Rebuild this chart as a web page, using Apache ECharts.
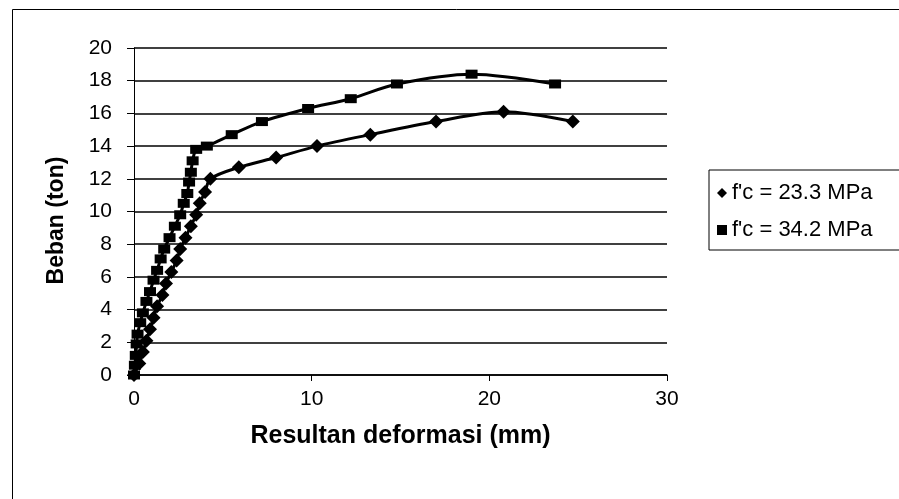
<!DOCTYPE html>
<html>
<head>
<meta charset="utf-8">
<script src="https://cdn.jsdelivr.net/npm/echarts@6/dist/echarts.min.js"></script>
<style>
  html, body { margin: 0; padding: 0; background: #fff; }
  #chart { width: 899px; height: 499px; }
</style>
</head>
<body>
<div id="chart"></div>
<script>
// f'c = 23.3 MPa (diamonds)
var defA = [0, 0.3, 0.5, 0.7, 0.9, 1.1, 1.3, 1.6, 1.8, 2.1, 2.4, 2.6, 2.9, 3.2, 3.5, 3.7, 4.0, 4.3, 5.9, 8.0, 10.3, 13.3, 17.0, 20.8, 24.7];
var loadA = [0, 0.7, 1.4, 2.1, 2.8, 3.5, 4.2, 4.9, 5.6, 6.3, 7.0, 7.7, 8.4, 9.1, 9.8, 10.5, 11.2, 12.0, 12.7, 13.3, 14.0, 14.7, 15.5, 16.1, 15.5];
// f'c = 34.2 MPa (squares)
var defB = [0, 0.05, 0.1, 0.15, 0.2, 0.35, 0.5, 0.7, 0.9, 1.1, 1.3, 1.5, 1.7, 2.0, 2.3, 2.6, 2.8, 3.0, 3.1, 3.2, 3.3, 3.5, 4.1, 5.5, 7.2, 9.8, 12.2, 14.8, 19.0, 23.7];
var loadB = [0, 0.6, 1.2, 1.9, 2.5, 3.2, 3.8, 4.5, 5.1, 5.8, 6.4, 7.1, 7.7, 8.4, 9.1, 9.8, 10.5, 11.1, 11.8, 12.4, 13.1, 13.8, 14.0, 14.7, 15.5, 16.3, 16.9, 17.8, 18.4, 17.8];
var seriesNames = ["f'c = 23.3 MPa", "f'c = 34.2 MPa"];

function pairs(xs, ys) {
  var out = [];
  for (var i = 0; i < xs.length; i++) {
    out.push([xs[i], ys[i]]);
  }
  return out;
}

var myChart = echarts.init(document.getElementById("chart"));
var font = "Liberation Sans, Arial, sans-serif";

myChart.setOption({
  animation: false,
  backgroundColor: "#fff",
  textStyle: { fontFamily: font, color: "#000" },
  graphic: [
    {
      type: "rect",
      left: 10,
      top: 7,
      shape: { width: 1000, height: 600 },
      style: { fill: "none", stroke: "#000", lineWidth: 1 },
      silent: true
    }
  ],
  grid: {
    left: 134,
    right: 232,
    top: 48,
    bottom: 124
  },
  legend: {
    orient: "vertical",
    left: 709,
    top: 170,
    padding: [12, 40, 9, 8],
    itemGap: 15,
    itemWidth: 10,
    itemHeight: 10,
    borderColor: "#000",
    borderWidth: 1,
    textStyle: { fontSize: 22, lineHeight: 21, color: "#000", fontFamily: font },
    data: [
      { name: seriesNames[0], icon: "diamond" },
      { name: seriesNames[1], icon: "rect" }
    ]
  },
  xAxis: {
    type: "value",
    min: 0,
    max: 30,
    interval: 10,
    name: "Resultan deformasi (mm)",
    nameLocation: "middle",
    nameGap: 49,
    nameTextStyle: { fontSize: 25, fontWeight: "bold", color: "#000" },
    axisLine: { show: true, lineStyle: { color: "#000", width: 1.5 } },
    axisTick: { show: true, length: 6, lineStyle: { color: "#000" } },
    axisLabel: { fontSize: 21, color: "#000", margin: 14 },
    splitLine: { show: false }
  },
  yAxis: {
    type: "value",
    min: 0,
    max: 20,
    interval: 2,
    name: "Beban (ton)",
    nameLocation: "middle",
    nameGap: 66,
    nameTextStyle: { fontSize: 23, fontWeight: "bold", color: "#000", padding: [0, 18, 0, 0] },
    axisLine: { show: true, lineStyle: { color: "#000", width: 1 } },
    axisTick: { show: true, length: 7, lineStyle: { color: "#000" } },
    axisLabel: { fontSize: 21, color: "#000", margin: 22 },
    splitLine: { show: true, lineStyle: { color: "#000", width: 1.5 } }
  },
  series: [
    {
      name: seriesNames[0],
      type: "line",
      data: pairs(defA, loadA),
      smooth: 0.3,
      symbol: "diamond",
      symbolSize: 14,
      itemStyle: { color: "#000" },
      lineStyle: { color: "#000", width: 3 }
    },
    {
      name: seriesNames[1],
      type: "line",
      data: pairs(defB, loadB),
      smooth: 0.3,
      symbol: "rect",
      symbolSize: [12, 9],
      itemStyle: { color: "#000" },
      lineStyle: { color: "#000", width: 3 }
    }
  ]
});
</script>
</body>
</html>
